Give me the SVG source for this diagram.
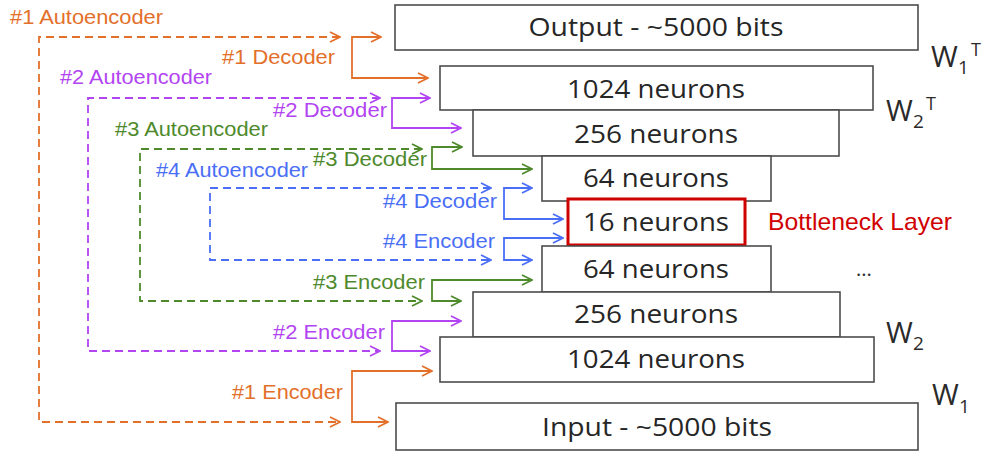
<svg xmlns="http://www.w3.org/2000/svg" width="983" height="453" viewBox="0 0 983 453">
<style>
.box{fill:#fff;stroke:#4d4d4d;stroke-width:1.6}
.bn{fill:#fff;stroke:#d00000;stroke-width:3}
.bt{font-family:"Open Sans","DejaVu Sans",sans-serif;font-size:25px;fill:#262626;text-anchor:middle}
.w{font-family:"Open Sans","DejaVu Sans",sans-serif;fill:#2a2a2a}
.lb{font-family:"Liberation Sans",Arial,sans-serif;font-size:21px}
.c{fill:none;stroke-width:1.8}
.d{stroke-dasharray:8 5}
.o{stroke:#e3702a}.p{stroke:#b244f2}.g{stroke:#4e8a2c}.b{stroke:#4a6ef5}
.to{fill:#e3702a}.tp{fill:#b244f2}.tg{fill:#4e8a2c}.tb{fill:#4a6ef5}
</style>
<defs>
<marker id="ao" viewBox="0 0 12 12" refX="11" refY="6" markerWidth="12" markerHeight="12" markerUnits="userSpaceOnUse" orient="auto-start-reverse"><path d="M1,1 L11,6 L1,11" fill="none" stroke="#e3702a" stroke-width="1.8"/></marker>
<marker id="ap" viewBox="0 0 12 12" refX="11" refY="6" markerWidth="12" markerHeight="12" markerUnits="userSpaceOnUse" orient="auto-start-reverse"><path d="M1,1 L11,6 L1,11" fill="none" stroke="#b244f2" stroke-width="1.8"/></marker>
<marker id="ag" viewBox="0 0 12 12" refX="11" refY="6" markerWidth="12" markerHeight="12" markerUnits="userSpaceOnUse" orient="auto-start-reverse"><path d="M1,1 L11,6 L1,11" fill="none" stroke="#4e8a2c" stroke-width="1.8"/></marker>
<marker id="ab" viewBox="0 0 12 12" refX="11" refY="6" markerWidth="12" markerHeight="12" markerUnits="userSpaceOnUse" orient="auto-start-reverse"><path d="M1,1 L11,6 L1,11" fill="none" stroke="#4a6ef5" stroke-width="1.8"/></marker>
</defs>
<rect width="983" height="453" fill="#fff"/>

<g id="connectors">
<path class="c d o" d="M340,37 H39 V422 H340" marker-start="url(#ao)" marker-end="url(#ao)"/>
<path class="c o" d="M381,37 H352 V78 H428" marker-start="url(#ao)" marker-end="url(#ao)"/>
<path class="c o" d="M432,371 H352 V422 H388" marker-start="url(#ao)" marker-end="url(#ao)"/>
<path class="c d p" d="M380,98 H88 V351 H380" marker-start="url(#ap)" marker-end="url(#ap)"/>
<path class="c p" d="M430,98 H392 V128 H461" marker-start="url(#ap)" marker-end="url(#ap)"/>
<path class="c p" d="M461,321 H392 V351 H430" marker-start="url(#ap)" marker-end="url(#ap)"/>
<path class="c d g" d="M422,149 H140 V301 H422" marker-start="url(#ag)" marker-end="url(#ag)"/>
<path class="c g" d="M462,147 H432 V169 H532" marker-start="url(#ag)" marker-end="url(#ag)"/>
<path class="c g" d="M532,280 H432 V301 H461" marker-start="url(#ag)" marker-end="url(#ag)"/>
<path class="c d b" d="M491,188 H210 V260 H491" marker-start="url(#ab)" marker-end="url(#ab)"/>
<path class="c b" d="M532,188 H504 V219 H563" marker-start="url(#ab)" marker-end="url(#ab)"/>
<path class="c b" d="M563,238 H504 V260 H532" marker-start="url(#ab)" marker-end="url(#ab)"/>
</g>

<g id="labels">
<text class="lb to" x="10" y="24" textLength="153" lengthAdjust="spacingAndGlyphs">#1 Autoencoder</text>
<text class="lb to" x="222" y="64" textLength="113" lengthAdjust="spacingAndGlyphs">#1 Decoder</text>
<text class="lb tp" x="60" y="84" textLength="152" lengthAdjust="spacingAndGlyphs">#2 Autoencoder</text>
<text class="lb tp" x="273" y="117" textLength="114" lengthAdjust="spacingAndGlyphs">#2 Decoder</text>
<text class="lb tg" x="115" y="136" textLength="153" lengthAdjust="spacingAndGlyphs">#3 Autoencoder</text>
<text class="lb tg" x="313" y="166" textLength="114" lengthAdjust="spacingAndGlyphs">#3 Decoder</text>
<text class="lb tb" x="156" y="177" textLength="152" lengthAdjust="spacingAndGlyphs">#4 Autoencoder</text>
<text class="lb tb" x="383" y="208" textLength="114" lengthAdjust="spacingAndGlyphs">#4 Decoder</text>
<text class="lb tb" x="383" y="248" textLength="112" lengthAdjust="spacingAndGlyphs">#4 Encoder</text>
<text class="lb tg" x="313" y="289" textLength="112" lengthAdjust="spacingAndGlyphs">#3 Encoder</text>
<text class="lb tp" x="273" y="339" textLength="112" lengthAdjust="spacingAndGlyphs">#2 Encoder</text>
<text class="lb to" x="232" y="399" textLength="111" lengthAdjust="spacingAndGlyphs">#1 Encoder</text>
</g>

<g id="output">
<rect class="box" x="395" y="5" width="523" height="45"/>
<text class="bt" x="656" y="36" textLength="255" lengthAdjust="spacingAndGlyphs">Output - ~5000 bits</text>
</g>
<g id="dec1024">
<rect class="box" x="440" y="66" width="433" height="44"/>
<text class="bt" x="656" y="98" textLength="178" lengthAdjust="spacingAndGlyphs">1024 neurons</text>
</g>
<g id="dec256">
<rect class="box" x="473" y="110" width="366" height="46"/>
<text class="bt" x="656" y="143" textLength="164" lengthAdjust="spacingAndGlyphs">256 neurons</text>
</g>
<g id="dec64">
<rect class="box" x="542" y="156" width="229" height="45"/>
<text class="bt" x="656" y="187" textLength="146" lengthAdjust="spacingAndGlyphs">64 neurons</text>
</g>
<g id="bottleneck">
<rect class="bn" x="568" y="199" width="177" height="46"/>
<text class="bt" x="656" y="231" textLength="146" lengthAdjust="spacingAndGlyphs">16 neurons</text>
<text x="768" y="230" font-family="Liberation Sans, Arial, sans-serif" font-size="24" fill="#d00000" textLength="184" lengthAdjust="spacingAndGlyphs">Bottleneck Layer</text>
</g>
<g id="enc64">
<rect class="box" x="542" y="246" width="229" height="46"/>
<text class="bt" x="656" y="278" textLength="146" lengthAdjust="spacingAndGlyphs">64 neurons</text>
</g>
<g id="enc256">
<rect class="box" x="473" y="292" width="367" height="45"/>
<text class="bt" x="656" y="323" textLength="164" lengthAdjust="spacingAndGlyphs">256 neurons</text>
</g>
<g id="enc1024">
<rect class="box" x="440" y="337" width="434" height="45"/>
<text class="bt" x="656" y="368" textLength="178" lengthAdjust="spacingAndGlyphs">1024 neurons</text>
</g>
<g id="input">
<rect class="box" x="396" y="403" width="522" height="47"/>
<text class="bt" x="657" y="436" textLength="230" lengthAdjust="spacingAndGlyphs">Input - ~5000 bits</text>
</g>

<g id="weights">
<text class="w" x="931" y="67" font-size="29">W</text><text class="w" x="958" y="74" font-size="19">1</text><text class="w" x="971" y="56" font-size="18">T</text>
<text class="w" x="886" y="121" font-size="29">W</text><text class="w" x="913" y="128" font-size="19">2</text><text class="w" x="926" y="110" font-size="18">T</text>
<text class="w" x="856" y="276" font-size="20">...</text>
<text class="w" x="886" y="343" font-size="29">W</text><text class="w" x="913" y="350" font-size="19">2</text>
<text class="w" x="932" y="405" font-size="29">W</text><text class="w" x="959" y="413" font-size="19">1</text>
</g>
</svg>
